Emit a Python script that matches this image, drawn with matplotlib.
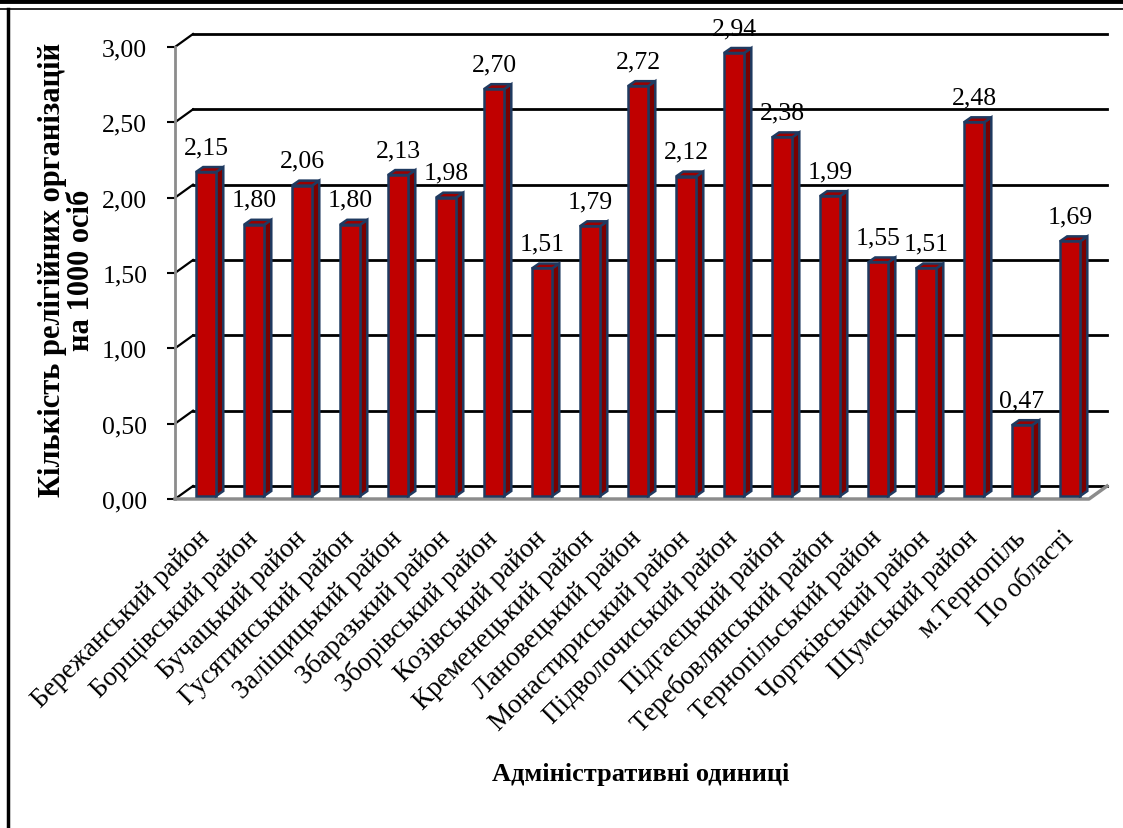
import matplotlib.pyplot as plt
from matplotlib.patches import Polygon
from matplotlib.lines import Line2D

plt.rcParams['font.family'] = ['Liberation Serif', 'DejaVu Serif']

districts = ['Бережанський район', 'Борщівський район', 'Бучацький район',
             'Гусятинський район', 'Заліщицький район', 'Збаразький район',
             'Зборівський район', 'Козівський район', 'Кременецький район',
             'Лановецький район', 'Монастириський район', 'Підволочиський район',
             'Підгаєцький район', 'Теребовлянський район', 'Тернопільський район',
             'Чортківський район', 'Шумський район', 'м.Тернопіль', 'По області']
values = [2.15, 1.80, 2.06, 1.80, 2.13, 1.98, 2.70, 1.51, 1.79, 2.72,
          2.12, 2.94, 2.38, 1.99, 1.55, 1.51, 2.48, 0.47, 1.69]
yticks = [0.0, 0.5, 1.0, 1.5, 2.0, 2.5, 3.0]

# псевдо-3D параметри (в одиницях даних)
wall_dx, wall_dy = 0.375, 0.086
bar_w = 0.42
bar_dx, bar_dy = 0.15, 0.033
bar_base = 0.02

fig = plt.figure(figsize=(11.23, 8.29), dpi=100)
ax = fig.add_axes([175 / 1123, 1 - 500 / 829, 932 / 1123, 465 / 829])
xl, xr = -0.646, 18.77
ax.set_xlim(xl, xr)
ax.set_ylim(0, 3.086)

for s in ['top', 'right', 'bottom']:
    ax.spines[s].set_visible(False)
ax.spines['left'].set_color('#8c8c8c')
ax.spines['left'].set_linewidth(2)
ax.spines['left'].set_bounds(0, 3)

# сітка на задній стінці
for v in yticks:
    ax.plot([xl, xl + wall_dx], [v, v + wall_dy], color='black', lw=1.6, zorder=1, clip_on=False)
    ax.plot([xl + wall_dx, xr], [v + wall_dy, v + wall_dy], color='black', lw=2, zorder=1, clip_on=False)
# підлога
ax.plot([xl, xr - wall_dx, xr], [0, 0, wall_dy], color='#8c8c8c', lw=2.5, zorder=2, clip_on=False)

for i, v in enumerate(values):
    x0, x1 = i - bar_w / 2, i + bar_w / 2
    top = v + bar_base
    front = Polygon([(x0, bar_base), (x1, bar_base), (x1, top), (x0, top)],
                    facecolor='#c00000', edgecolor='#1f3a60', lw=1.8, zorder=4)
    side = Polygon([(x1, bar_base), (x1 + bar_dx, bar_base + bar_dy),
                    (x1 + bar_dx, top + bar_dy), (x1, top)],
                   facecolor='#7a0000', edgecolor='#1f3a60', lw=1.8, zorder=3)
    cap = Polygon([(x0, top), (x0 + bar_dx, top + bar_dy),
                   (x1 + bar_dx, top + bar_dy), (x1, top)],
                  facecolor='#9a0000', edgecolor='#1f3a60', lw=1.8, zorder=3)
    for p in (front, side, cap):
        ax.add_patch(p)
    ax.text(i, top + 0.126, f'{v:.2f}'.replace('.', ','), ha='center', va='baseline',
            fontsize=18.5, zorder=5)

ax.set_yticks(yticks)
ax.set_yticklabels([f'{t:.2f}'.replace('.', ',') for t in yticks], fontsize=18.5)
ax.tick_params(axis='y', length=6, width=1.5, color='black', pad=14)
ax.set_xticks(range(len(districts)))
ax.set_xticklabels(districts, rotation=45, ha='right', va='center',
                   rotation_mode='anchor', fontsize=19.5)
ax.tick_params(axis='x', length=0, pad=25)

fig.text(67 / 1123, 1 - 270 / 829, 'Кількість релігійних організацій\nна 1000 осіб',
         rotation=90, ha='center', va='center', multialignment='center',
         fontsize=22, fontweight='bold', linespacing=1.0)
fig.text(641 / 1123, 1 - 775 / 829, 'Адміністративні одиниці',
         ha='center', va='center', fontsize=19, fontweight='bold')

# рамка сторінки
fig.add_artist(Line2D([0, 1], [1 - 2 / 829, 1 - 2 / 829], color='black', lw=3.5))
fig.add_artist(Line2D([0, 1], [1 - 9.5 / 829, 1 - 9.5 / 829], color='black', lw=1.2))
fig.add_artist(Line2D([8 / 1123, 8 / 1123], [0, 1 - 9.5 / 829], color='black', lw=2.5))

plt.savefig('out.png', dpi=100)
